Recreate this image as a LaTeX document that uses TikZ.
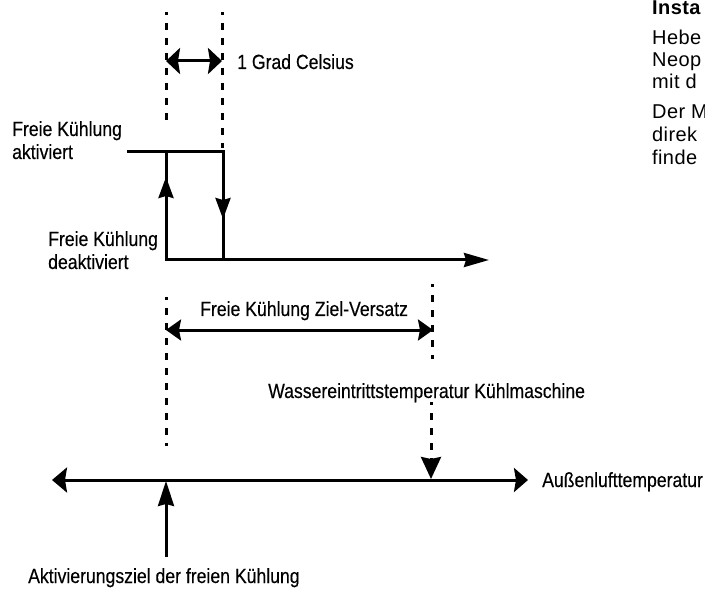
\documentclass[tikz,border=0pt]{standalone}
\usepackage{fontspec}
\setmainfont{Liberation Sans}[FakeStretch=0.86, FakeBold=0.3]
\newfontfamily\pagefont{Liberation Sans}[LetterSpace=2]
\usetikzlibrary{arrows.meta}

\begin{document}
\begin{tikzpicture}[x=1pt, y=-1pt,
  line/.style={line width=3pt},
  dots/.style={line width=3pt, dash pattern=on 7pt off 8pt, dash phase=4pt},
  lbl/.style={inner sep=0pt, anchor=base west, font=\fontsize{20.5}{23}\selectfont},
  txt/.style={inner sep=0pt, anchor=base west, font=\pagefont\fontsize{20}{23}\selectfont}]
  \useasboundingbox (0,0) rectangle (705,591);

  % hysteresis: switching points 1 degree apart
  \coordinate (onL) at (127,152);
  \coordinate (onA) at (166,152);
  \coordinate (onB) at (223,152);
  \coordinate (offA) at (166,260);
  \coordinate (offB) at (223,260);
  \coordinate (offEnd) at (489,260);
  \coordinate (upTip) at (166,177);
  \coordinate (downTip) at (223,219);
  \draw[line] (onL) -- (onB) -- (offB);
  \draw[line, -{Stealth[length=25pt, width=14pt, inset=2pt]}] (onA) -- (offA) -- (offEnd);
  \draw[line, -{Stealth[length=21pt, width=15pt, inset=2pt]}] (offA) -- (upTip);
  \draw[line, -{Stealth[length=21pt, width=15pt, inset=2pt]}] (onB) -- (downTip);

  \node[lbl, align=left] (aktiv) at (12,159) {Freie Kühlung\\aktiviert};
  \node[lbl, align=left] (deaktiv) at (48,269) {Freie Kühlung\\deaktiviert};

  % 1 degree band
  \coordinate (gradTopL) at (166,12);
  \coordinate (gradBotL) at (166,121);
  \coordinate (gradTopR) at (222,12);
  \coordinate (gradBotR) at (222,148);
  \coordinate (gradL) at (166,61);
  \coordinate (gradR) at (222,61);
  \draw[dots] (gradTopL) -- (gradBotL);
  \draw[dots] (gradTopR) -- (gradBotR);
  \draw[line, {Stealth[length=14pt, width=26pt, inset=2pt]}-{Stealth[length=14pt, width=26pt, inset=2pt]}] (gradL) -- (gradR);
  \node[lbl] (grad) at (237,69) {1 Grad Celsius};

  % target offset
  \coordinate (zielTopL) at (166,297);
  \coordinate (zielBotL) at (166,446);
  \coordinate (zielTopR) at (432,284);
  \coordinate (zielBotR) at (432,359);
  \coordinate (zielL) at (166,330);
  \coordinate (zielR) at (433,330);
  \draw[dots] (zielTopL) -- (zielBotL);
  \draw[dots] (zielTopR) -- (zielBotR);
  \draw[line, {Stealth[length=15pt, width=21pt, inset=2pt]}-{Stealth[length=15pt, width=21pt, inset=2pt]}] (zielL) -- (zielR);
  \node[lbl] (ziel) at (200,316) {Freie Kühlung Ziel-Versatz};

  % outdoor air axis
  \coordinate (axL) at (52,480);
  \coordinate (axR) at (528,480);
  \coordinate (wasserTop) at (431,402);
  \coordinate (wasserPt) at (431,479);
  \coordinate (target) at (166,481);
  \coordinate (targetFoot) at (166,557);
  \draw[line, {Stealth[length=15pt, width=25pt, inset=2pt]}-{Stealth[length=14pt, width=24pt, inset=2pt]}] (axL) -- (axR);
  \draw[dots, -{Stealth[length=22pt, width=20pt, inset=2pt]}] (wasserTop) -- (wasserPt);
  \draw[line, -{Stealth[length=25pt, width=16pt, inset=2pt]}] (targetFoot) -- (target);
  \node[lbl] (wasser) at (268,398) {Wassereintrittstemperatur Kühlmaschine};
  \node[lbl] (aussen) at (542,487) {Außenlufttemperatur};
  \node[lbl] (aktziel) at (28,583) {Aktivierungsziel der freien Kühlung};

  % neighbouring page column
  \begin{scope}
    \clip (600,0) rectangle (705,591);
    \node[txt, font=\pagefont\bfseries\fontsize{20}{23}\selectfont] (insta) at (652,15) {Insta};
    \node[txt] (hebe) at (652,45) {Hebe};
    \node[txt] (neop) at (652,67) {Neop};
    \node[txt] (mitd) at (652,89) {mit d};
    \node[txt] (derm) at (652,119) {Der M};
    \node[txt] (direk) at (652,142) {direk};
    \node[txt] (finde) at (652,165) {finde};
  \end{scope}
\end{tikzpicture}
\end{document}
